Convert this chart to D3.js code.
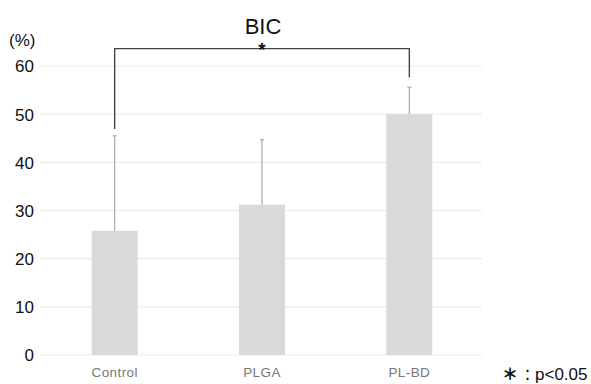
<!DOCTYPE html>
<html><head><meta charset="utf-8">
<script src="https://cdn.jsdelivr.net/npm/d3@7"></script>
<style>body{margin:0;background:#fff;}svg{display:block;font-family:"Liberation Sans",Arial,sans-serif;}</style>
</head><body>
<svg id="c" width="591" height="384"></svg>
<script>
const categories = ["Control", "PLGA", "PL-BD"];
const means = [25.8, 31.2, 50.0];
const upperErr = [45.5, 44.7, 55.6];
const yTicks = [0, 10, 20, 30, 40, 50, 60];

const svg = d3.select("#c");
const x = d3.scaleBand().domain(categories).range([41, 483]).paddingInner(0.688).paddingOuter(0.344);
const y = d3.scaleLinear().domain([0, 60]).range([355, 66]);

// gridlines
svg.append("g").selectAll("line").data(yTicks).join("line")
  .attr("x1", 40).attr("x2", 482)
  .attr("y1", d => y(d)).attr("y2", d => y(d))
  .attr("stroke", "#ebebeb").attr("stroke-width", 1.2);

// y axis labels
const yAxis = d3.axisLeft(y).tickValues(yTicks).tickSize(0).tickPadding(0);
const gy = svg.append("g").attr("transform", "translate(34,0)").call(yAxis);
gy.select(".domain").remove();
gy.selectAll("text").attr("font-size", 17).attr("fill", "#111").attr("dy", "0.35em")
  .attr("font-family", "Liberation Sans, Arial, sans-serif");

// error bars
const eg = svg.append("g");
categories.forEach((c, i) => {
  const cx = x(c) + x.bandwidth() / 2;
  eg.append("line").attr("x1", cx).attr("x2", cx).attr("y1", y(means[i])).attr("y2", y(upperErr[i]))
    .attr("stroke", "#aaa").attr("stroke-width", 1.2);
  eg.append("line").attr("x1", cx - 2).attr("x2", cx + 2).attr("y1", y(upperErr[i])).attr("y2", y(upperErr[i]))
    .attr("stroke", "#aaa").attr("stroke-width", 1.2);
});

// bars
svg.append("g").selectAll("rect").data(categories).join("rect")
  .attr("x", d => x(d)).attr("width", x.bandwidth())
  .attr("y", (d, i) => y(means[i])).attr("height", (d, i) => y(0) - y(means[i]))
  .attr("fill", "#d9d9d9");

// x labels
const xAxis = d3.axisBottom(x).tickSize(0).tickPadding(0);
const gx = svg.append("g").attr("transform", "translate(0,367)").call(xAxis);
gx.select(".domain").remove();
gx.selectAll("text").attr("font-size", 13.5).attr("fill", "#777").attr("dy", "0.71em")
  .attr("letter-spacing", 0.4)
  .attr("font-family", "Liberation Sans, Arial, sans-serif");

// significance bracket
const xl = x("Control") + x.bandwidth() / 2, xr = x("PL-BD") + x.bandwidth() / 2;
svg.append("path")
  .attr("d", `M${xl},${y(46.9)}V${y(63.6)}H${xr}V${y(57.6)}`)
  .attr("fill", "none").attr("stroke", "#444").attr("stroke-width", 1.4);
svg.append("text").attr("x", (xl + xr) / 2).attr("y", 56).attr("text-anchor", "middle")
  .attr("font-size", 19).attr("font-weight", "bold").attr("fill", "#111").text("*");

// title
svg.append("text").attr("x", 263).attr("y", 34).attr("text-anchor", "middle")
  .attr("font-size", 22).attr("fill", "#111").text("BIC");
svg.append("text").attr("x", 9).attr("y", 46).attr("font-size", 17).attr("fill", "#111").text("(%)");

// footnote
const fn = svg.append("text").attr("y", 380).attr("font-size", 17).attr("fill", "#111");
fn.append("tspan").attr("x", 502).attr("font-family", "Noto Sans CJK JP").attr("font-weight", "900").attr("font-size", 16).text("＊");
fn.append("tspan").attr("x", 520).attr("font-family", "Noto Sans CJK JP").attr("font-size", 15).text("：");
fn.append("tspan").attr("x", 535).text("p<0.05");
</script>
</body></html>
